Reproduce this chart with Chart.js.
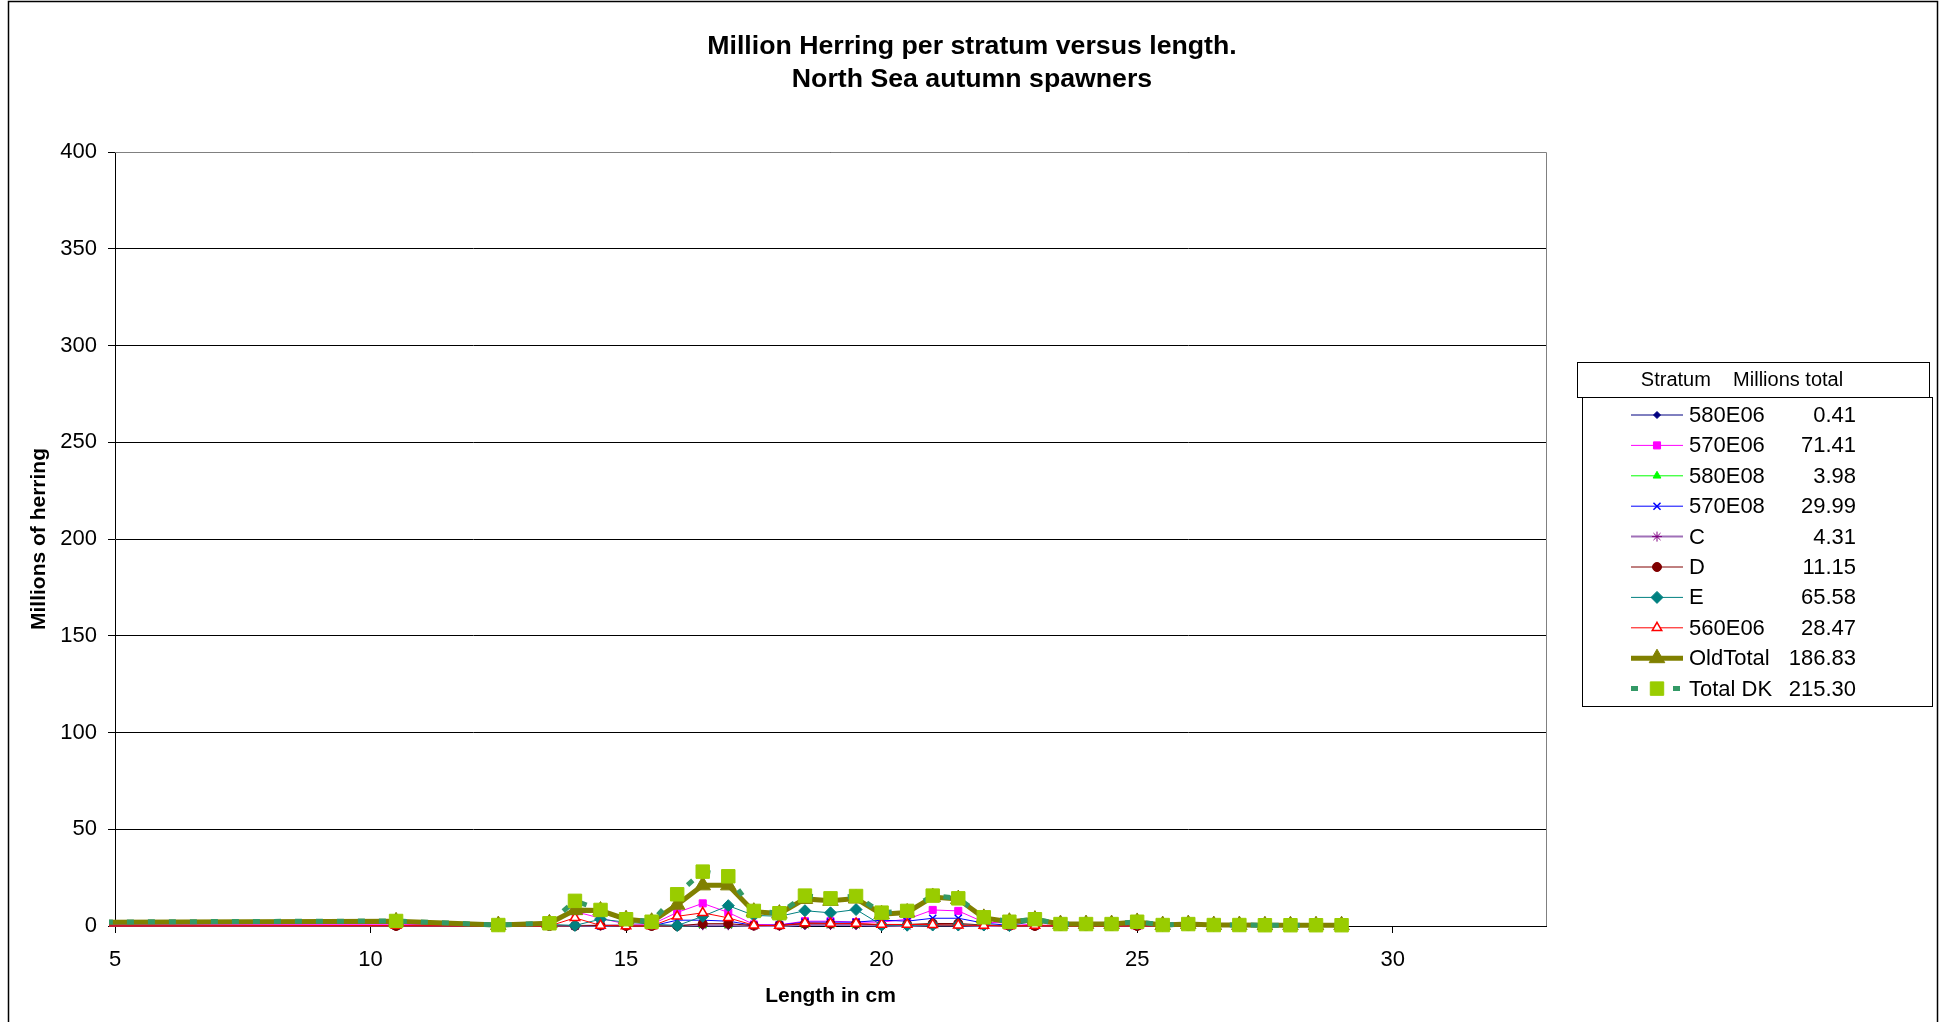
<!DOCTYPE html>
<html>
<head>
<meta charset="utf-8">
<title>Million Herring per stratum versus length</title>
<script src="https://cdn.jsdelivr.net/npm/chart.js@4.4.1/dist/chart.umd.min.js"></script>
<style>
  html, body { margin: 0; padding: 0; background: #fff; }
  canvas { display: block; }
</style>
</head>
<body>
<canvas id="myChart" width="1944" height="1022"></canvas>
<script>
// comprimento em cm (o primeiro ponto fica fora do eixo, so a linha entra pela esquerda)
var comprimentos = [4, 10.5, 12.5, 13.5, 14, 14.5, 15, 15.5, 16, 16.5, 17, 17.5, 18, 18.5, 19, 19.5, 20, 20.5, 21, 21.5, 22, 22.5, 23, 23.5, 24, 24.5, 25, 25.5, 26, 26.5, 27, 27.5, 28, 28.5, 29];

var estratos = ['580E06', '570E06', '580E08', '570E08', 'C', 'D', 'E', '560E06', 'OldTotal', 'Total DK'];
var totais = [0.41, 71.41, 3.98, 29.99, 4.31, 11.15, 65.58, 28.47, 186.83, 215.30];

var s580E06 = [0, 0, 0, 0, 0, 0, 0, 0, 0, 0, 0, 0, 0, 0, 0.2, 0, 0, 0, 0.2, 0, 0, 0, 0, 0, 0, 0, 0, 0, 0, 0, 0, 0, 0, 0, 0];
var s570E06 = [0.8, 0.9, 0.2, 0.6, 7.5, 4, 1, 0.8, 7, 11.7, 7, 0.8, 0.6, 2.5, 2.5, 2, 2, 3.5, 8.3, 7.8, 2, 1.5, 0.5, 0.3, 0.3, 0.3, 0.8, 0.1, 0.4, 0.1, 0.1, 0.1, 0.1, 0.1, 0.1];
var s580E08 = [0, 0, 0, 0, 0, 0, 0, 0, 0, 0.3, 0.3, 0, 0, 0.5, 0.5, 0.5, 0.3, 0.3, 0.4, 0.4, 0.3, 0, 0.2, 0, 0, 0, 0, 0, 0, 0, 0, 0, 0, 0, 0];
var s570E08 = [0, 0, 0, 0, 0, 0, 0, 0, 3, 3, 2.5, 0.3, 0.5, 2, 2, 2, 3, 2.5, 4, 4, 1.5, 0.3, 0, 0, 0, 0, 0, 0, 0, 0, 0, 0, 0, 0, 0];
var sC = [0, 0, 0, 0, 0, 0.2, 0.4, 0, 0.3, 0.4, 0.4, 0, 0, 0.6, 0.5, 0.5, 0.2, 0, 0.4, 0.4, 0, 0, 0, 0, 0, 0, 0, 0, 0, 0, 0, 0, 0, 0, 0];
var sD = [0, 0, 0, 0, 0, 0.3, 0, 0, 0, 1.2, 1.2, 0.2, 0.3, 1.2, 1.2, 1.2, 0.5, 0.8, 1.3, 1.3, 0.5, 0, 0, 0, 0, 0, 0, 0, 0, 0, 0, 0, 0, 0, 0];
var sE = [1, 1.5, 0.3, 0.8, 0.3, 3.5, 2, 1, 0.2, 5, 10.5, 5.5, 5, 7.9, 6.8, 8.5, 0.5, 0.4, 0.5, 0.5, 0.5, 0.2, 2.5, 0.5, 0.5, 0.5, 1.2, 0.3, 0.5, 0.3, 0.3, 0.3, 0.3, 0.3, 0.3];
var s560E06 = [0, 0.2, 0, 0, 4.2, 0.3, 0, 0, 5, 6.8, 4.2, 0.4, 0.2, 1.6, 1.3, 1.3, 0.8, 0.8, 0.7, 0.4, 0.3, 0, 0.2, 0, 0, 0, 0.1, 0, 0, 0, 0, 0, 0, 0, 0];
var oldTotal = [1.8, 2.4, 0.5, 1.4, 8.2, 8.0, 3.5, 2.2, 11, 21, 21, 7.4, 6.4, 14, 13, 14.2, 6.1, 7.0, 15, 13.9, 4.2, 2.2, 3.3, 1.0, 1.0, 1.0, 2.1, 0.5, 1.0, 0.5, 0.5, 0.4, 0.4, 0.4, 0.4];
var totalDK = [2, 2.6, 0.5, 1.4, 13, 8.3, 3.5, 2.2, 16.4, 28.1, 25.7, 7.8, 6.6, 15.7, 14.3, 15.5, 6.9, 7.8, 15.7, 14.3, 4.5, 2.2, 3.5, 1.0, 1.0, 1.0, 2.2, 0.5, 1.0, 0.5, 0.5, 0.4, 0.4, 0.4, 0.4];

var series = [s580E06, s570E06, s580E08, s570E08, sC, sD, sE, s560E06, oldTotal, totalDK];

var tituloLegenda = 'Stratum    Millions total';

// estilo de cada serie (mesma ordem de estratos)
var estilos = [
    { linha: '#000080', larg: 1, ponto: 'rectRot', raio: 3.5, fundo: '#000080', borda: '#000080' },
    { linha: '#FF00FF', larg: 1, ponto: 'rect', raio: 5, fundo: '#FF00FF', borda: '#FF00FF' },
    { linha: '#00FF00', larg: 1, ponto: 'triangle', raio: 4.5, fundo: '#00FF00', borda: '#00FF00' },
    { linha: '#0000FF', larg: 1, ponto: 'crossRot', raio: 5, fundo: '#0000FF', borda: '#0000FF', bordaPonto: 1.5 },
    { linha: '#A070B8', larg: 2, ponto: 'star', raio: 5, fundo: '#800080', borda: '#800080' },
    { linha: '#800000', larg: 1, ponto: 'circle', raio: 4.5, fundo: '#800000', borda: '#800000' },
    { linha: '#008080', larg: 1, ponto: 'rectRot', raio: 6, fundo: '#008080', borda: '#008080' },
    { linha: '#FF0000', larg: 1, ponto: 'triangle', raio: 5.5, fundo: '#FFFFFF', borda: '#FF0000', bordaPonto: 1.5 },
    { linha: '#808000', larg: 5, ponto: 'triangle', raio: 9, fundo: '#808000', borda: '#808000' },
    { linha: '#339966', larg: 5, traco: [7, 14], ponto: 'rect', raio: 9.5, fundo: '#99CC00', borda: '#99CC00' }
];

var fonte = 'Arial, "Liberation Sans", sans-serif';

var datasets = estratos.map(function (nome, i) {
    var e = estilos[i];
    return {
        label: nome,
        data: comprimentos.map(function (x, j) { return { x: x, y: series[i][j] }; }),
        showLine: true,
        tension: 0,
        borderColor: e.linha,
        borderWidth: e.larg,
        borderDash: e.traco || [],
        pointStyle: e.ponto,
        pointRadius: e.raio,
        pointHoverRadius: e.raio,
        pointBackgroundColor: e.fundo,
        pointBorderColor: e.borda,
        pointBorderWidth: e.bordaPonto || 1,
        order: estratos.length - 1 - i,
        clip: { left: 6, top: 20, right: 20, bottom: 20 }
    };
});

// moldura do grafico e da figura
var moldura = {
    id: 'moldura',
    beforeDatasetsDraw: function (chart) {
        var c = chart.ctx, a = chart.chartArea;
        c.save();
        c.strokeStyle = '#808080';
        c.lineWidth = 1;
        c.beginPath();
        c.moveTo(a.left, Math.round(a.top) + 0.5);
        c.lineTo(Math.round(a.right) + 0.5, Math.round(a.top) + 0.5);
        c.lineTo(Math.round(a.right) + 0.5, a.bottom);
        c.stroke();
        c.restore();
    },
    afterDraw: function (chart) {
        var c = chart.ctx;
        c.save();
        c.strokeStyle = '#000';
        c.lineWidth = 1.5;
        c.strokeRect(8.5, 1.5, 1929, 1040);
        c.restore();
    }
};

// legenda em forma de tabela
var legendaTabela = {
    id: 'legendaTabela',
    afterDraw: function (chart) {
        var c = chart.ctx;
        c.save();
        c.strokeStyle = '#000';
        c.lineWidth = 1;
        c.strokeRect(1577.5, 362.5, 352, 35);
        c.strokeRect(1582.5, 397.5, 350, 309);
        c.fillStyle = '#000';
        c.textAlign = 'center';
        c.textBaseline = 'middle';
        c.font = '20px ' + fonte;
        c.fillText(tituloLegenda, 1742, 380);

        c.font = '22px ' + fonte;
        chart.data.datasets.forEach(function (ds, i) {
            var y = 415 + i * 30.4;
            c.strokeStyle = ds.borderColor;
            c.lineWidth = ds.borderWidth;
            c.setLineDash(ds.borderDash);
            c.beginPath();
            c.moveTo(1631, y);
            c.lineTo(1683, y);
            c.stroke();
            c.setLineDash([]);
            c.fillStyle = ds.pointBackgroundColor;
            c.strokeStyle = ds.pointBorderColor;
            c.lineWidth = ds.pointBorderWidth;
            if (Chart.helpers && Chart.helpers.drawPoint) {
                Chart.helpers.drawPoint(c, { pointStyle: ds.pointStyle, rotation: 0, radius: ds.pointRadius, borderWidth: ds.pointBorderWidth }, 1657, y);
            }
            c.fillStyle = '#000';
            c.textAlign = 'left';
            c.fillText(estratos[i], 1689, y + 1);
            c.textAlign = 'right';
            c.fillText(totais[i].toFixed(2), 1856, y + 1);
        });
        c.restore();
    }
};

var grafico = new Chart(document.getElementById('myChart'), {
    type: 'scatter',
    data: { datasets: datasets },
    options: {
        responsive: false,
        animation: false,
        events: [],
        layout: { padding: 0 },
        plugins: {
            legend: { display: false },
            tooltip: { enabled: false },
            title: {
                display: true,
                text: ['Million Herring per stratum versus length.', 'North Sea autumn spawners'],
                color: '#000',
                font: { family: fonte, size: 26.7, weight: 'bold', lineHeight: 1.25 },
                padding: { top: 30, bottom: 55.3 }
            }
        },
        scales: {
            x: {
                type: 'linear',
                min: 5,
                max: 33,
                afterFit: function (s) { s.height = 96; },
                ticks: { stepSize: 5, includeBounds: false, color: '#000', font: { family: fonte, size: 22 }, padding: 14, maxRotation: 0 },
                grid: { drawOnChartArea: false, drawTicks: true, tickLength: 7, color: '#000' },
                border: { display: true, color: '#000', width: 1 },
                title: { display: true, text: 'Length in cm', color: '#000', font: { family: fonte, size: 21, weight: 'bold' }, padding: { top: 0, bottom: 13 } }
            },
            y: {
                type: 'linear',
                min: 0,
                max: 400,
                afterFit: function (s) { s.width = 115; },
                ticks: { stepSize: 50, color: '#000', font: { family: fonte, size: 22 }, padding: 11 },
                grid: { color: '#000', lineWidth: 1, drawTicks: true, tickLength: 7 },
                border: { display: true, color: '#000', width: 1 },
                title: { display: true, text: 'Millions of herring', color: '#000', font: { family: fonte, size: 21, weight: 'bold' }, padding: { top: 27, bottom: 0 } }
            },
            espaco: {
                type: 'linear',
                position: 'right',
                display: true,
                afterFit: function (s) { s.width = 398; },
                ticks: { display: false },
                grid: { display: false },
                border: { display: false }
            }
        }
    },
    plugins: [moldura, legendaTabela]
});
</script>
</body>
</html>
